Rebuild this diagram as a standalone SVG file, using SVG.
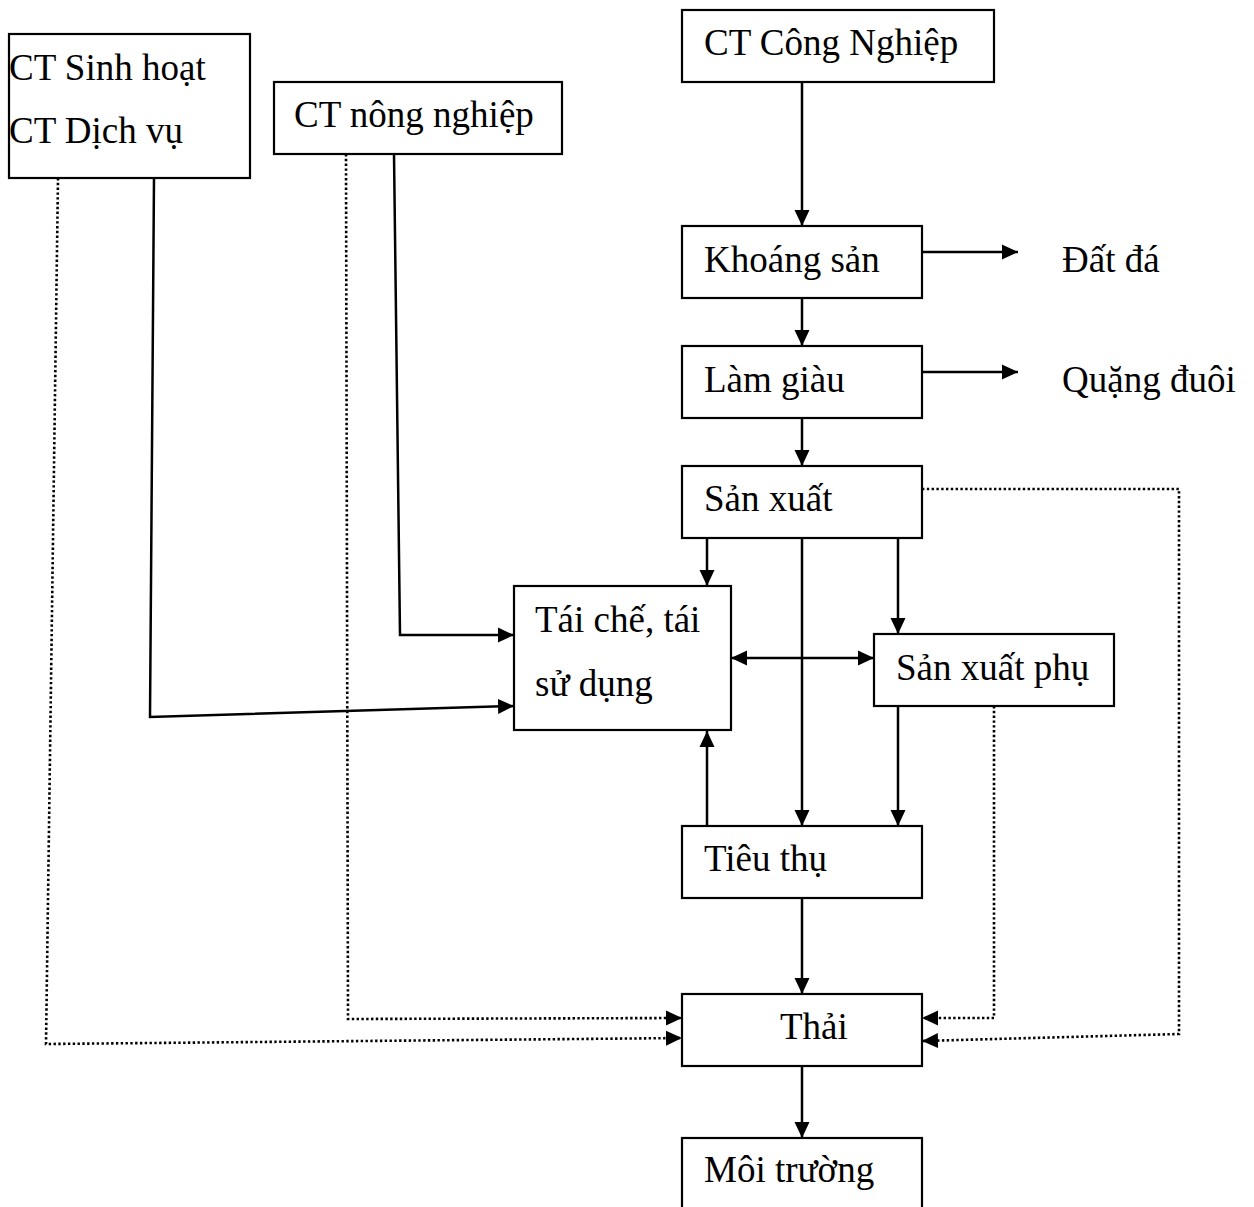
<svg xmlns="http://www.w3.org/2000/svg" width="1254" height="1207" viewBox="0 0 1254 1207">
<style>
.box{fill:#fff;stroke:#000;stroke-width:2.2}
.t{font-family:"Liberation Serif","Times New Roman",serif;font-size:37px;fill:#000}
.ln{fill:none;stroke:#000;stroke-width:2.5}
.dot{fill:none;stroke:#000;stroke-width:2.6;stroke-dasharray:2.4 2.4}
</style>
<defs>
<marker id="ah" markerUnits="userSpaceOnUse" markerWidth="17" markerHeight="16" refX="16" refY="8" orient="auto">
<path d="M0,0.5 L16,8 L0,15.5 z" fill="#000"/>
</marker>
<marker id="as" markerUnits="userSpaceOnUse" markerWidth="17" markerHeight="16" refX="0" refY="8" orient="auto">
<path d="M16,0.5 L0,8 L16,15.5 z" fill="#000"/>
</marker>
</defs>
<rect width="1254" height="1207" fill="#fff"/>
<g id="connectors">
<line class="ln" x1="802" y1="82" x2="802" y2="226" marker-end="url(#ah)"/>
<line class="ln" x1="922" y1="252" x2="1018" y2="252" marker-end="url(#ah)"/>
<line class="ln" x1="802" y1="298" x2="802" y2="346" marker-end="url(#ah)"/>
<line class="ln" x1="922" y1="372" x2="1018" y2="372" marker-end="url(#ah)"/>
<line class="ln" x1="802" y1="418" x2="802" y2="466" marker-end="url(#ah)"/>
<line class="ln" x1="707" y1="538" x2="707" y2="586" marker-end="url(#ah)"/>
<line class="ln" x1="802" y1="538" x2="802" y2="826" marker-end="url(#ah)"/>
<line class="ln" x1="898" y1="538" x2="898" y2="634" marker-end="url(#ah)"/>
<line class="ln" x1="731" y1="658" x2="874" y2="658" marker-start="url(#as)" marker-end="url(#ah)"/>
<line class="ln" x1="898" y1="706" x2="898" y2="826" marker-end="url(#ah)"/>
<line class="ln" x1="707" y1="826" x2="707" y2="731" marker-end="url(#ah)"/>
<line class="ln" x1="802" y1="898" x2="802" y2="994" marker-end="url(#ah)"/>
<line class="ln" x1="802" y1="1066" x2="802" y2="1138" marker-end="url(#ah)"/>
<polyline class="ln" points="394,154 400,635 514,635" marker-end="url(#ah)"/>
<polyline class="ln" points="154,178 150,717 514,706" marker-end="url(#ah)"/>
<polyline class="dot" points="58,178 46,1044 682,1038" marker-end="url(#ah)"/>
<polyline class="dot" points="346,154 348,1019 682,1018" marker-end="url(#ah)"/>
<polyline class="dot" points="994,706 994,1018 922,1018" marker-end="url(#ah)"/>
<polyline class="dot" points="922,489 1179,489 1179,1034 922,1041" marker-end="url(#ah)"/>
</g>
<g id="ct-sinh-hoat">
<rect class="box" x="9" y="34" width="241" height="144"/>
<text class="t" x="9" y="80">CT Sinh hoạt</text>
<text class="t" x="9" y="143">CT Dịch vụ</text>
</g>
<g id="ct-nong-nghiep">
<rect class="box" x="274" y="82" width="288" height="72"/>
<text class="t" x="294" y="127">CT nông nghiệp</text>
</g>
<g id="ct-cong-nghiep">
<rect class="box" x="682" y="10" width="312" height="72"/>
<text class="t" x="704" y="55">CT Công Nghiệp</text>
</g>
<g id="khoang-san">
<rect class="box" x="682" y="226" width="240" height="72"/>
<text class="t" x="704" y="272">Khoáng sản</text>
</g>
<g id="dat-da">
<text class="t" x="1062" y="272">Đất đá</text>
</g>
<g id="lam-giau">
<rect class="box" x="682" y="346" width="240" height="72"/>
<text class="t" x="704" y="392">Làm giàu</text>
</g>
<g id="quang-duoi">
<text class="t" x="1062" y="392">Quặng đuôi</text>
</g>
<g id="san-xuat">
<rect class="box" x="682" y="466" width="240" height="72"/>
<text class="t" x="704" y="511">Sản xuất</text>
</g>
<g id="tai-che">
<rect class="box" x="514" y="586" width="217" height="144"/>
<text class="t" x="535" y="632">Tái chế, tái</text>
<text class="t" x="535" y="696">sử dụng</text>
</g>
<g id="san-xuat-phu">
<rect class="box" x="874" y="634" width="240" height="72"/>
<text class="t" x="896" y="680">Sản xuất phụ</text>
</g>
<g id="tieu-thu">
<rect class="box" x="682" y="826" width="240" height="72"/>
<text class="t" x="704" y="871">Tiêu thụ</text>
</g>
<g id="thai">
<rect class="box" x="682" y="994" width="240" height="72"/>
<text class="t" x="780" y="1039">Thải</text>
</g>
<g id="moi-truong">
<rect class="box" x="682" y="1138" width="240" height="90"/>
<text class="t" x="704" y="1182">Môi trường</text>
</g>
</svg>
